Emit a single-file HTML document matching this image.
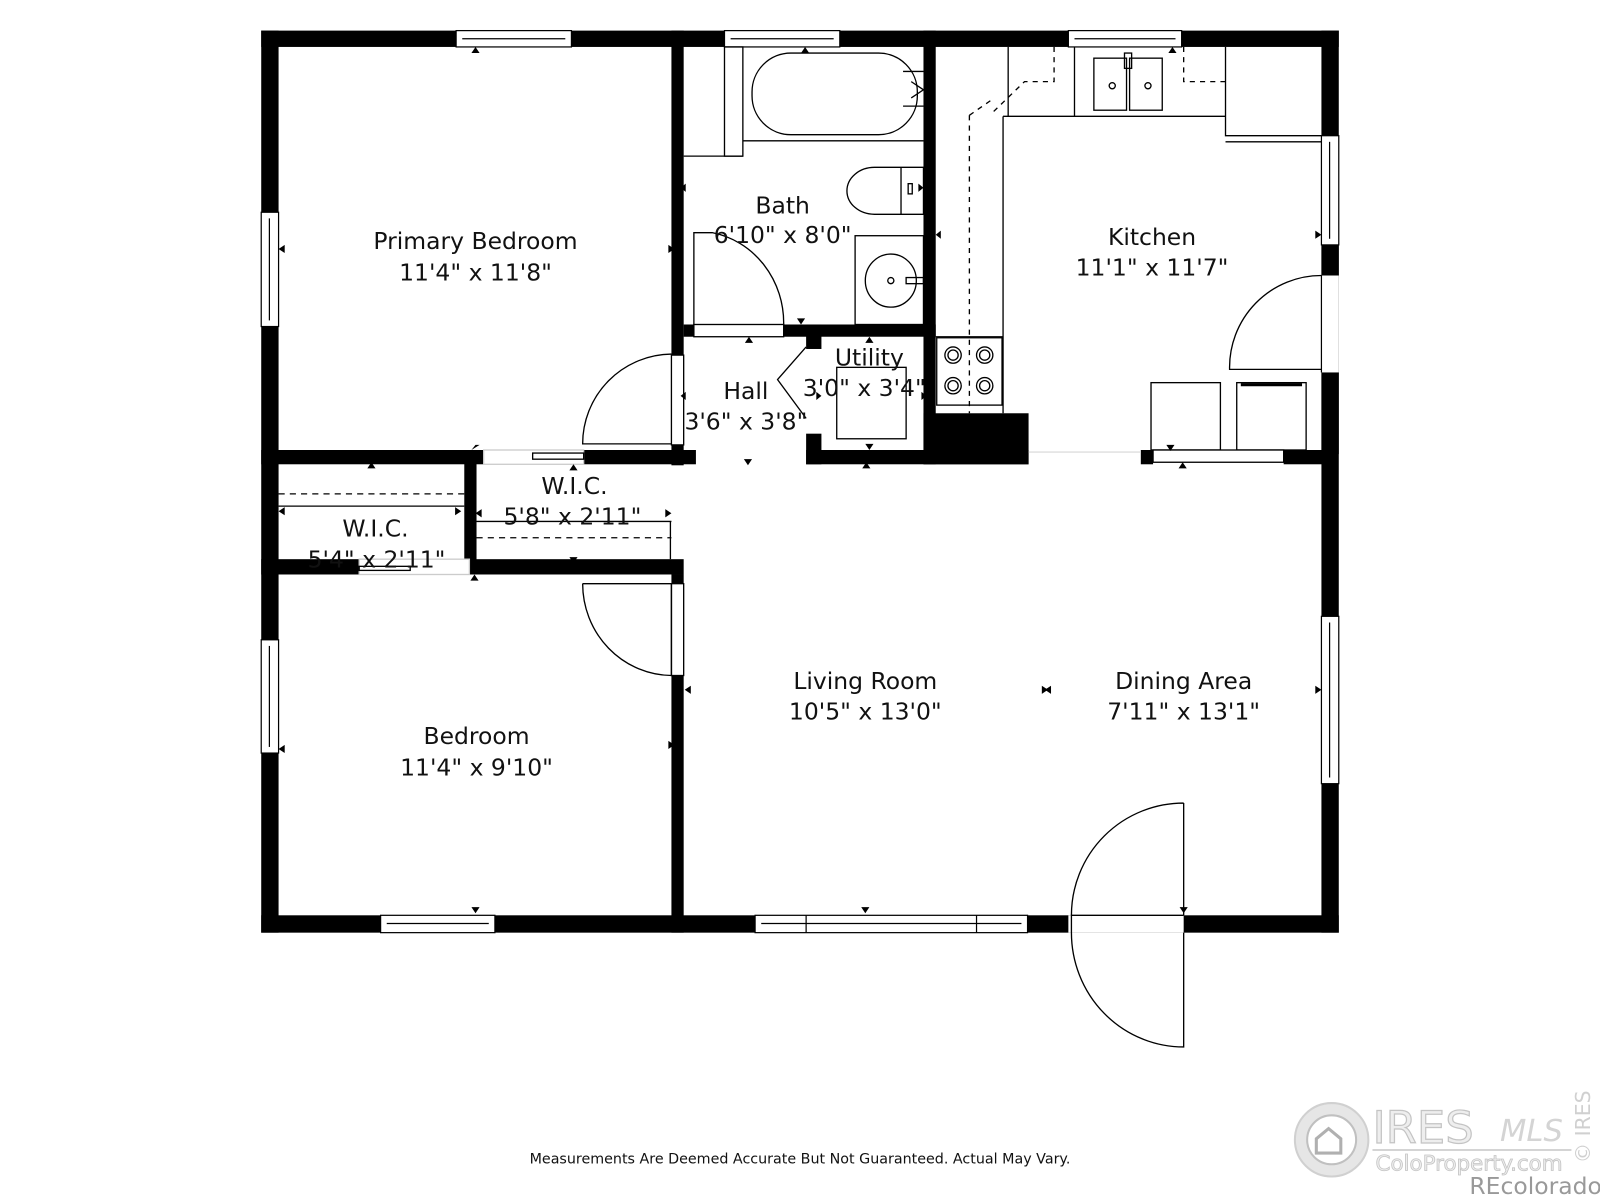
<!DOCTYPE html>
<html><head><style>
html,body{margin:0;padding:0;background:#fff;width:1600px;height:1200px;overflow:hidden}
svg{display:block}
text{font-family:"DejaVu Sans","Liberation Sans",sans-serif;fill:#111}
</style></head><body>
<svg width="1600" height="1200" viewBox="0 0 1568 1176" xmlns="http://www.w3.org/2000/svg">
<rect width="1568" height="1176" fill="#fff"/>
<g fill="#000">
<rect x="256" y="30" width="1056" height="16"/>
<rect x="256" y="30" width="17" height="884"/>
<rect x="1295" y="30" width="17" height="884"/>
<rect x="256" y="897" width="1056" height="17"/>
<rect x="658" y="30" width="12" height="318"/>
<rect x="658" y="436" width="12" height="20"/>
<rect x="658" y="563" width="12" height="351"/>
<rect x="905" y="30" width="12" height="425"/>
<rect x="256" y="441" width="218" height="14"/>
<rect x="572" y="441" width="110" height="14"/>
<rect x="455" y="441" width="12" height="122"/>
<rect x="256" y="548" width="96" height="15"/>
<rect x="460" y="548" width="210" height="15"/>
<rect x="670" y="318" width="10" height="12"/>
<rect x="768" y="318" width="149" height="12"/>
<rect x="790" y="318" width="15" height="24"/>
<rect x="790" y="425" width="15" height="30"/>
<rect x="790" y="441" width="218" height="14"/>
<rect x="905" y="405" width="103" height="50"/>
<rect x="1118" y="441" width="12" height="14"/>
<rect x="1258" y="441" width="40" height="14"/>
<rect x="1295" y="240" width="17" height="30"/>
<rect x="1295" y="365" width="17" height="80"/>
</g>
<g fill="#fff" stroke="#000" stroke-width="1.2">
<rect x="447" y="30" width="113" height="16"/><line x1="453" y1="38" x2="554" y2="38"/>
<rect x="710" y="30" width="113" height="16"/><line x1="716" y1="38" x2="817" y2="38"/>
<rect x="1047" y="30" width="111" height="16"/><line x1="1053" y1="38" x2="1152" y2="38"/>
<rect x="256" y="208" width="17" height="112"/><line x1="264" y1="214" x2="264" y2="314"/>
<rect x="256" y="627" width="17" height="111"/><line x1="264" y1="633" x2="264" y2="732"/>
<rect x="1295" y="133" width="17" height="107"/><line x1="1303" y1="139" x2="1303" y2="234"/>
<rect x="1295" y="604" width="17" height="164"/><line x1="1303" y1="610" x2="1303" y2="762"/>
<rect x="373" y="897" width="112" height="17"/><line x1="379" y1="905" x2="479" y2="905"/>
<rect x="740" y="897" width="267" height="17"/><line x1="746" y1="905" x2="1001" y2="905"/>
<line x1="790" y1="897" x2="790" y2="914"/><line x1="957" y1="897" x2="957" y2="914"/>
<rect x="1295" y="270" width="17" height="95" stroke="none"/>
<line x1="1295" y1="270" x2="1295" y2="365"/>
</g>
<rect x="1047" y="897" width="113" height="17" fill="#fff"/>
<g fill="none" stroke="#000" stroke-width="1.3">
<rect x="710" y="46" width="18" height="107"/>
<line x1="670" y1="153" x2="728" y2="153"/>
<line x1="728" y1="138" x2="905" y2="138"/>
<rect x="737" y="52" width="162" height="80" rx="38"/>
<path d="M885 70 h20 M885 104 h20 M893 80 l12 8 l-12 8"/>
<path d="M905 164 h-48 a27 23 0 0 0 0 46 h48 z"/>
<line x1="883" y1="164" x2="883" y2="210"/>
<rect x="890" y="180" width="4" height="10"/>
<rect x="838" y="231" width="67" height="87"/>
<ellipse cx="873" cy="275" rx="25" ry="26"/>
<circle cx="873" cy="275" r="3"/>
<rect x="888" y="272" width="17" height="6"/>
<path d="M680 318 V228 h18 A86 90 0 0 1 768 318"/>
<rect x="680" y="318" width="88" height="12" fill="#fff"/>
<rect x="658" y="348" width="12" height="88" fill="#fff"/>
<path d="M658 347 A88 88 0 0 0 571 435 H658"/>
<rect x="474" y="441" width="98" height="14" fill="#fff" stroke="#ccc"/>
<rect x="522" y="444" width="50" height="6"/>
<path d="M790 340 L762 372 L790 410"/>
<rect x="820" y="360" width="68" height="70"/>
<line x1="273" y1="484" x2="455" y2="484" stroke-dasharray="6,5"/>
<line x1="273" y1="496" x2="455" y2="496"/>
<line x1="467" y1="511" x2="658" y2="511"/>
<line x1="467" y1="527" x2="658" y2="527" stroke-dasharray="6,5"/>
<line x1="657" y1="511" x2="657" y2="548"/>
<rect x="352" y="548" width="108" height="15" fill="#fff" stroke="#ccc"/>
<rect x="352" y="555" width="50" height="4"/>
<rect x="658" y="572" width="12" height="90" fill="#fff"/>
<path d="M571 572 H658 V662 A88 90 0 0 1 571 572"/>
<line x1="917" y1="330" x2="983" y2="330"/>
<rect x="918" y="331" width="64" height="66"/>
<circle cx="934" cy="348" r="8"/><circle cx="934" cy="348" r="5"/>
<circle cx="965" cy="348" r="8"/><circle cx="965" cy="348" r="5"/>
<circle cx="934" cy="378" r="8"/><circle cx="934" cy="378" r="5"/>
<circle cx="965" cy="378" r="8"/><circle cx="965" cy="378" r="5"/>
<line x1="983" y1="114" x2="983" y2="405"/>
<line x1="983" y1="114" x2="1201" y2="114"/>
<line x1="988" y1="46" x2="988" y2="114"/>
<line x1="1053" y1="46" x2="1053" y2="114"/>
<rect x="1072" y="57" width="32" height="51"/><rect x="1107" y="57" width="32" height="51"/>
<rect x="1102" y="52" width="7" height="15"/>
<circle cx="1090" cy="84" r="3"/><circle cx="1125" cy="84" r="3"/>
<path d="M1201 46 V133 H1295 M1201 139 H1295"/>
<path d="M1033 46 V80 H1004 L973 110 M950 113 L973 97 M950 113 V405" stroke-dasharray="5,5"/>
<path d="M1160 46 V80 H1201" stroke-dasharray="5,5"/>
<path d="M1295 270 A90 90 0 0 0 1205 362 H1295"/>
<rect x="1128" y="375" width="68" height="66"/><rect x="1212" y="375" width="68" height="66"/>
<line x1="1216" y1="377" x2="1276" y2="377" stroke-width="3"/>
<rect x="1130" y="441" width="128" height="12" fill="#fff"/>
<line x1="1008" y1="443" x2="1118" y2="443" stroke="#ddd"/>
<path d="M1160 787 V897 M1160 787 A110 110 0 0 0 1050 897"/>
<path d="M1160 914 V1026 A110 112 0 0 1 1050 914 V897 H1160"/>
</g>
<g fill="#000">
<path d="M462 52 l4 -6 l4 6z M785 52 l4 -6 l4 6z M1145 52 l4 -6 l4 6z"/>
<path d="M462 441 l4 -5 l4 0z"/>
<path d="M360 459 l4 -6 l4 6z M558 461 l4 -6 l4 6z M730 336 l4 -6 l4 6z M848 336 l4 -6 l4 6z M845 459 l4 -6 l4 6z M1155 459 l4 -6 l4 6z M461 569 l4 -6 l4 6z"/>
<path d="M781 312 l4 6 l4 -6z M729 450 l4 6 l4 -6z M848 435 l4 6 l4 -6z M558 546 l4 6 l4 -6z M462 889 l4 6 l4 -6z M844 889 l4 6 l4 -6z M1143 436 l4 6 l4 -6z M1156 889 l4 6 l4 -6z"/>
<path d="M279 240 l-6 4 l6 4z M672 180 l-5 4 l5 4z M922 226 l-5 4 l5 4z M672 384 l-5 4 l5 4z M279 730 l-6 4 l6 4z M677 672 l-6 4 l6 4z M279 497 l-6 4 l6 4z M472 499 l-6 4 l6 4z M1021 672 l6 4 l-6 4z"/>
<path d="M655 240 l6 4 l-6 4z M900 180 l5 4 l-5 4z M1289 226 l6 4 l-6 4z M800 384 l5 4 l-5 4z M655 726 l6 4 l-6 4z M1289 672 l6 4 l-6 4z M446 497 l6 4 l-6 4z M652 499 l6 4 l-6 4z M903 384 l5 4 l-5 4z M1030 672 l-6 4 l6 4z"/>
</g>
<g font-size="23" text-anchor="middle">
<text x="466" y="244">Primary Bedroom</text><text x="466" y="275">11'4" x 11'8"</text>
<text x="767" y="209">Bath</text><text x="767" y="238">6'10" x 8'0"</text>
<text x="1129" y="240">Kitchen</text><text x="1129" y="270">11'1" x 11'7"</text>
<text x="731" y="391">Hall</text><text x="731" y="421">3'6" x 3'8"</text>
<text x="852" y="358">Utility</text><text x="847" y="388">3'0" x 3'4"</text>
<text x="563" y="484">W.I.C.</text><text x="561" y="514">5'8" x 2'11"</text>
<text x="368" y="526">W.I.C.</text><text x="369" y="556">5'4" x 2'11"</text>
<text x="467" y="729">Bedroom</text><text x="467" y="760">11'4" x 9'10"</text>
<text x="848" y="675">Living Room</text><text x="848" y="705">10'5" x 13'0"</text>
<text x="1160" y="675">Dining Area</text><text x="1160" y="705">7'11" x 13'1"</text>
</g>
<text x="784" y="1140" font-size="14" text-anchor="middle">Measurements Are Deemed Accurate But Not Guaranteed. Actual May Vary.</text>
<g>
<circle cx="1305" cy="1117" r="36" fill="#e6e6e6" stroke="#d0d0d0" stroke-width="2"/>
<circle cx="1305" cy="1117" r="24" fill="#fff" stroke="#c0c0c0" stroke-width="2"/>
<path d="M1290 1130 v-14 l12 -10 l12 10 v14 z" fill="none" stroke="#b0b0b0" stroke-width="3"/>
<text x="1345" y="1120" font-size="44" font-family="Liberation Sans" style="fill:#eee" stroke="#c4c4c4" stroke-width="1.2">IRES</text>
<text x="1470" y="1118" font-size="30" font-style="italic" font-family="Liberation Serif" style="fill:#d4d4d4">MLS</text>
<line x1="1345" y1="1127" x2="1540" y2="1127" stroke="#d4d4d4" stroke-width="2"/>
<text x="1348" y="1147" font-size="21" font-family="Liberation Sans" style="fill:#eee" stroke="#c4c4c4" stroke-width="0.8">ColoProperty.com</text>
<text x="1440" y="1170" font-size="23" font-family="Liberation Sans" style="fill:#999">REcolorado</text>
<text x="1558" y="1140" font-size="20" font-family="Liberation Sans" style="fill:#d0d0d0" transform="rotate(-90 1558 1140)">© IRES</text>
</g>
</svg>
</body></html>
